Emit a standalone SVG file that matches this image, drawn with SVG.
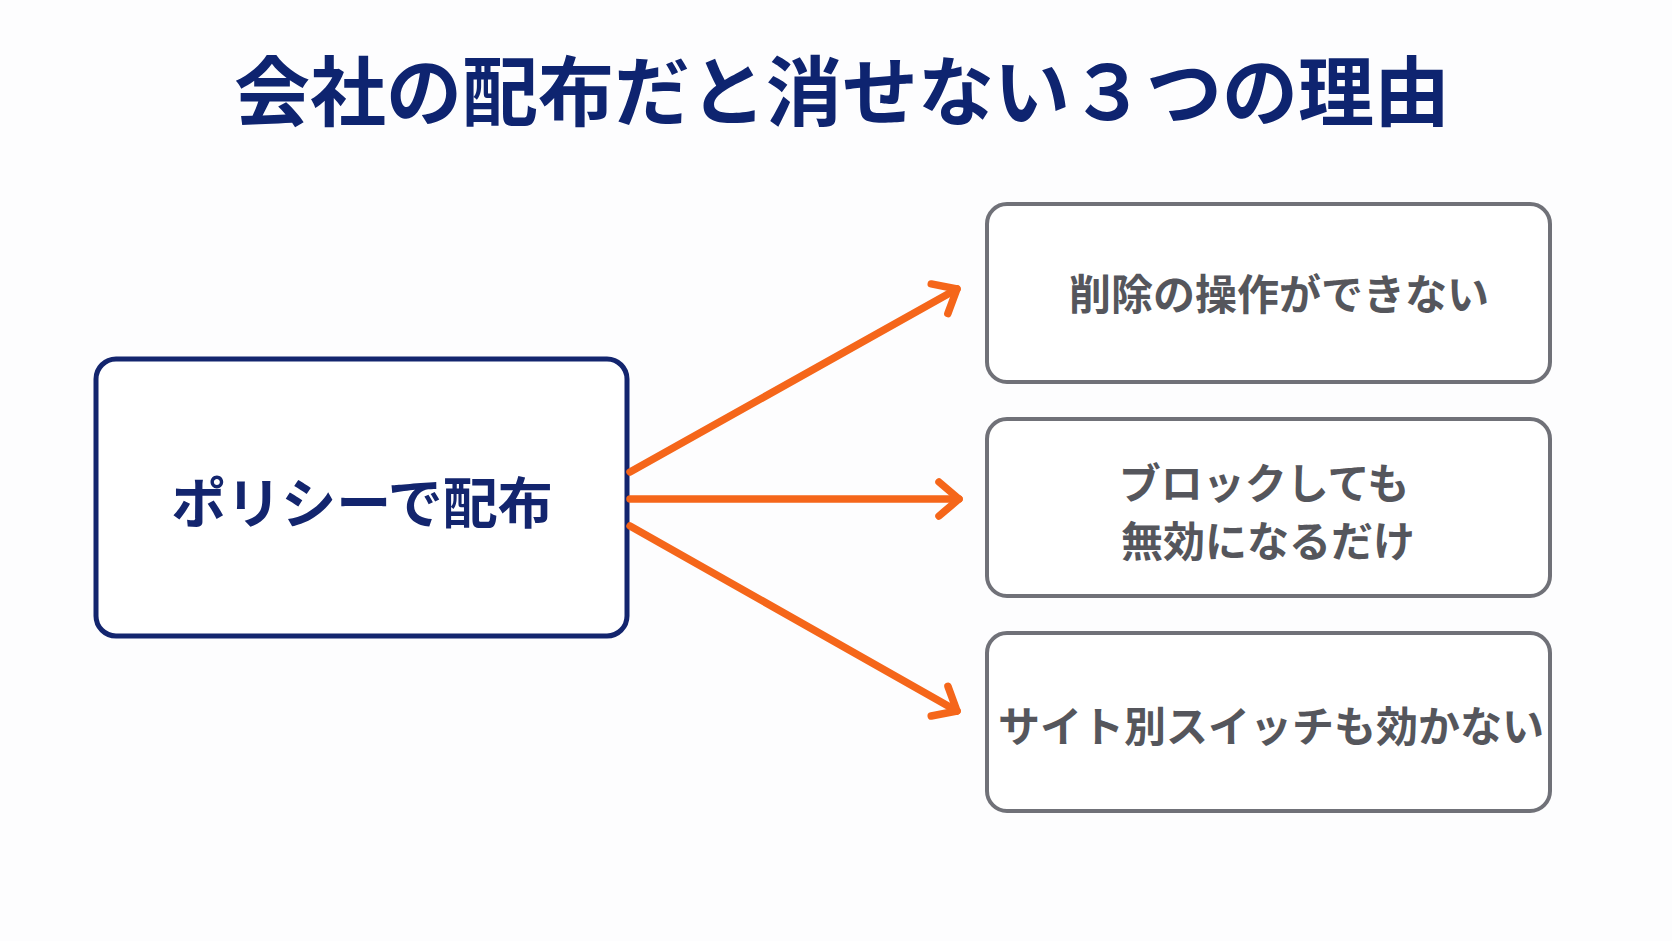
<svg xmlns="http://www.w3.org/2000/svg" width="1672" height="941" viewBox="0 0 1672 941">
<style>
text{font-family:"Noto Sans CJK JP","Noto Sans",sans-serif;font-weight:700;text-anchor:middle;dominant-baseline:central}
.g rect{fill:#fff;stroke:#707178;stroke-width:4}
.g text{fill:#55565c;font-size:42px}
.c line{stroke:#f5661a;stroke-width:7.5;stroke-linecap:round}
</style>
<defs><marker id="a" viewBox="-30 -30 60 60" refX="0" refY="0" markerWidth="60" markerHeight="60" orient="auto" markerUnits="userSpaceOnUse"><path d="M-20 -17 L0 0 L-20 17" fill="none" stroke="#f5661a" stroke-width="7.5" stroke-linecap="round" stroke-linejoin="round"/></marker></defs>
<rect width="1672" height="941" fill="#fdfdfe"/>
<text x="842" y="87" font-size="76" fill="#0e2470">会社の配布だと消せない３つの理由</text>
<g id="src"><rect x="96" y="359" width="531" height="277" rx="20" fill="#fff" stroke="#13256e" stroke-width="5"/><text x="362" y="499" font-size="55" fill="#13256e">ポリシーで配布</text></g>
<g class="c" id="connectors">
<line x1="630" y1="472" x2="957" y2="289" marker-end="url(#a)"/>
<line x1="630" y1="499" x2="959" y2="499" marker-end="url(#a)"/>
<line x1="630" y1="526" x2="957" y2="711" marker-end="url(#a)"/>
</g>
<g class="g" id="r1"><rect x="987" y="204" width="563" height="178" rx="20"/><text x="1279" y="291">削除の操作ができない</text></g>
<g class="g" id="r2"><rect x="987" y="419" width="563" height="177" rx="20"/><text x="1264" y="480">ブロックしても</text><text x="1268" y="538">無効になるだけ</text></g>
<g class="g" id="r3"><rect x="987" y="633" width="563" height="178" rx="20"/><text x="1271" y="723" font-size="39">サイト別スイッチも効かない</text></g>
</svg>
